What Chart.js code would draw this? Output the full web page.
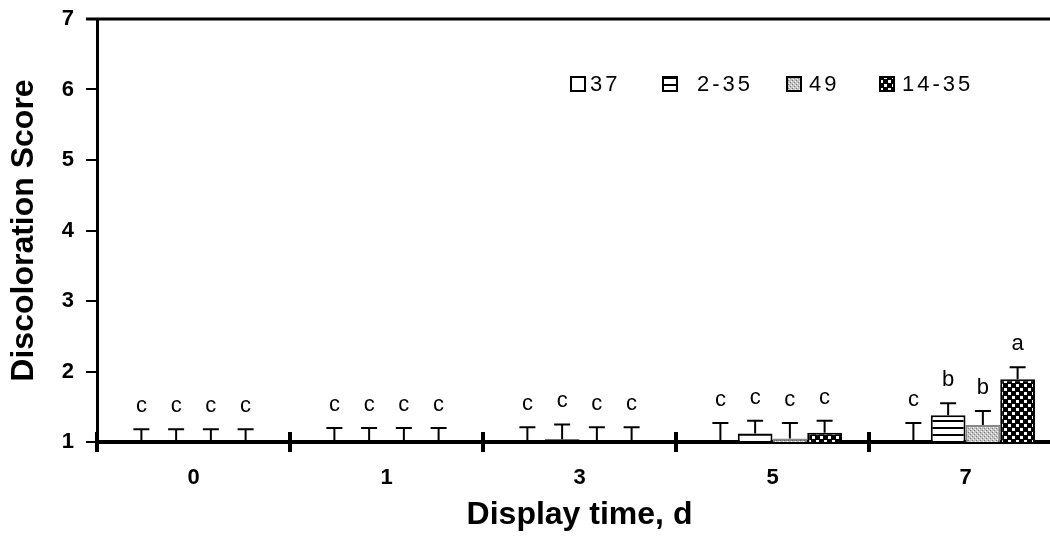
<!DOCTYPE html>
<html>
<head>
<meta charset="utf-8">
<script src="https://cdn.jsdelivr.net/npm/chart.js@4.4.0/dist/chart.umd.min.js"></script>
<style>
  html, body { margin: 0; padding: 0; background: #fff; overflow: hidden; }
  #wrap { width: 1050px; height: 536px; overflow: hidden; }
</style>
</head>
<body>
<div id="wrap"><canvas id="chart" width="1062" height="536"></canvas></div>
<script>
// display days and the four series
const days = ["0", "1", "3", "5", "7"];
const seriesNames = ["37", "2-35", "49", "14-35"];

// mean discoloration scores
const score37   = [1.00, 1.00, 1.00, 1.02, 1.03];
const score235  = [1.00, 1.00, 1.04, 1.12, 1.38];
const score49   = [1.00, 1.00, 1.00, 1.05, 1.24];
const score1435 = [1.00, 1.00, 1.00, 1.13, 1.89];

// standard errors (upper bar only)
const sem37   = [0.18, 0.20, 0.21, 0.25, 0.24];
const sem235  = [0.18, 0.20, 0.21, 0.18, 0.17];
const sem49   = [0.18, 0.20, 0.21, 0.22, 0.20];
const sem1435 = [0.18, 0.20, 0.21, 0.17, 0.17];

// significance letters
const letters37   = ["c", "c", "c", "c", "c"];
const letters235  = ["c", "c", "c", "c", "b"];
const letters49   = ["c", "c", "c", "c", "b"];
const letters1435 = ["c", "c", "c", "c", "a"];

const yTicks = [1, 2, 3, 4, 5, 6, 7];

const FONT = '"Liberation Sans", Arial, Helvetica, sans-serif';

function makePattern(w, h, draw) {
  const c = document.createElement("canvas");
  c.width = w; c.height = h;
  const g = c.getContext("2d");
  draw(g);
  return g.createPattern(c, "repeat");
}

const stripes = makePattern(4, 7, g => {
  g.fillStyle = "#fff"; g.fillRect(0, 0, 4, 7);
  g.fillStyle = "#000"; g.fillRect(0, 0, 4, 2);
});
const stipple = makePattern(4, 4, g => {
  g.fillStyle = "#c4c4c4"; g.fillRect(0, 0, 4, 4);
  g.fillStyle = "#7a7a7a"; g.fillRect(0, 0, 1, 1); g.fillRect(2, 2, 1, 1);
  g.fillStyle = "#fff"; g.fillRect(1, 3, 1, 1); g.fillRect(3, 1, 1, 1);
});
const checker = makePattern(8, 8, g => {
  g.fillStyle = "#000"; g.fillRect(0, 0, 8, 8);
  g.fillStyle = "#fff"; g.fillRect(0, 0, 3, 3); g.fillRect(4, 4, 3, 3);
});

const fills = ["#fff", stripes, stipple, checker];
const borders = ["#000", "#000", "#888", "#000"];

function makeSet(i, data, sem, letters) {
  return {
    label: seriesNames[i],
    data: data,
    sem: sem,
    letters: letters,
    backgroundColor: fills[i],
    borderColor: borders[i],
    borderWidth: 2,
    barPercentage: 1,
    categoryPercentage: 0.72
  };
}

// upper error bars and letters
const errorBars = {
  id: "errorBars",
  afterDatasetsDraw(chart) {
    const ctx = chart.ctx;
    const y = chart.scales.y;
    ctx.save();
    ctx.strokeStyle = "#000";
    ctx.fillStyle = "#000";
    ctx.lineWidth = 2;
    ctx.font = "22px " + FONT;
    ctx.textAlign = "center";
    ctx.textBaseline = "middle";
    chart.data.datasets.forEach((ds, i) => {
      chart.getDatasetMeta(i).data.forEach((bar, j) => {
        const top = y.getPixelForValue(ds.data[j] + ds.sem[j]);
        ctx.beginPath();
        ctx.moveTo(bar.x, bar.y);
        ctx.lineTo(bar.x, top);
        ctx.moveTo(bar.x - 8, top);
        ctx.lineTo(bar.x + 8, top);
        ctx.stroke();
        ctx.fillText(ds.letters[j], bar.x, top - 23);
      });
    });
    ctx.restore();
  }
};

// top frame line, ticks crossing the x axis, legend
const frame = {
  id: "frame",
  afterDraw(chart) {
    const { ctx, chartArea: a, scales: { x } } = chart;
    ctx.save();
    ctx.strokeStyle = "#000";
    ctx.lineWidth = 3;
    ctx.beginPath();
    ctx.moveTo(a.left - 11, a.top);
    ctx.lineTo(a.right, a.top);
    ctx.stroke();

    const step = x.getPixelForValue(1) - x.getPixelForValue(0);
    ctx.lineWidth = 4;
    for (let i = 0; i <= days.length; i++) {
      const px = x.getPixelForValue(0) - step / 2 + i * step;
      ctx.beginPath();
      ctx.moveTo(px, a.bottom - 10);
      ctx.lineTo(px, a.bottom);
      ctx.stroke();
    }

    // legend
    const boxX = [571, 663, 787, 880];
    const textX = [590, 697, 809, 902];
    const ly = 84;
    ctx.font = "22px " + FONT;
    ctx.letterSpacing = "3px";
    ctx.textAlign = "left";
    ctx.textBaseline = "middle";
    seriesNames.forEach((name, i) => {
      ctx.fillStyle = fills[i];
      ctx.fillRect(boxX[i], ly - 7, 14, 14);
      ctx.lineWidth = 2;
      ctx.strokeStyle = "#000";
      ctx.strokeRect(boxX[i], ly - 7, 14, 14);
      ctx.fillStyle = "#000";
      ctx.fillText(name, textX[i], ly + 1);
    });
    ctx.restore();
  }
};

const chart = new Chart(document.getElementById("chart"), {
  type: "bar",
  data: {
    labels: days,
    datasets: [
      makeSet(0, score37, sem37, letters37),
      makeSet(1, score235, sem235, letters235),
      makeSet(2, score49, sem49, letters49),
      makeSet(3, score1435, sem1435, letters1435)
    ]
  },
  options: {
    responsive: false,
    animation: false,
    devicePixelRatio: 1,
    layout: { padding: { top: 19, left: 0, right: 0, bottom: 0 } },
    plugins: { legend: { display: false }, tooltip: { enabled: false } },
    scales: {
      x: {
        afterFit: s => { s.height = 94; s.paddingLeft = 0; s.paddingRight = 0; },
        border: { display: true, color: "#000", width: 4 },
        grid: { display: true, drawOnChartArea: false, drawTicks: true, tickLength: 10,
                color: "#000", lineWidth: 4, offset: true },
        ticks: { color: "#000", padding: 13, font: { family: FONT, size: 22, weight: "bold" } },
        title: { display: true, text: "Display time, d", color: "#000",
                 padding: { top: 0, bottom: 2 },
                 font: { family: FONT, size: 32, weight: "bold" } }
      },
      y: {
        min: 1,
        max: 7,
        afterFit: s => { s.width = 97; s.paddingTop = 0; s.paddingBottom = 0; },
        afterBuildTicks: s => { s.ticks = yTicks.map(v => ({ value: v })); },
        border: { display: true, color: "#000", width: 3 },
        grid: { display: true, drawOnChartArea: false, drawTicks: true, tickLength: 11,
                color: "#000", lineWidth: 2 },
        ticks: { color: "#000", padding: 12, font: { family: FONT, size: 22, weight: "bold" } },
        title: { display: true, text: "Discoloration Score", color: "#000",
                 padding: { top: 5, bottom: 0 },
                 font: { family: FONT, size: 32, weight: "bold" } }
      }
    }
  },
  plugins: [errorBars, frame]
});
</script>
</body>
</html>
